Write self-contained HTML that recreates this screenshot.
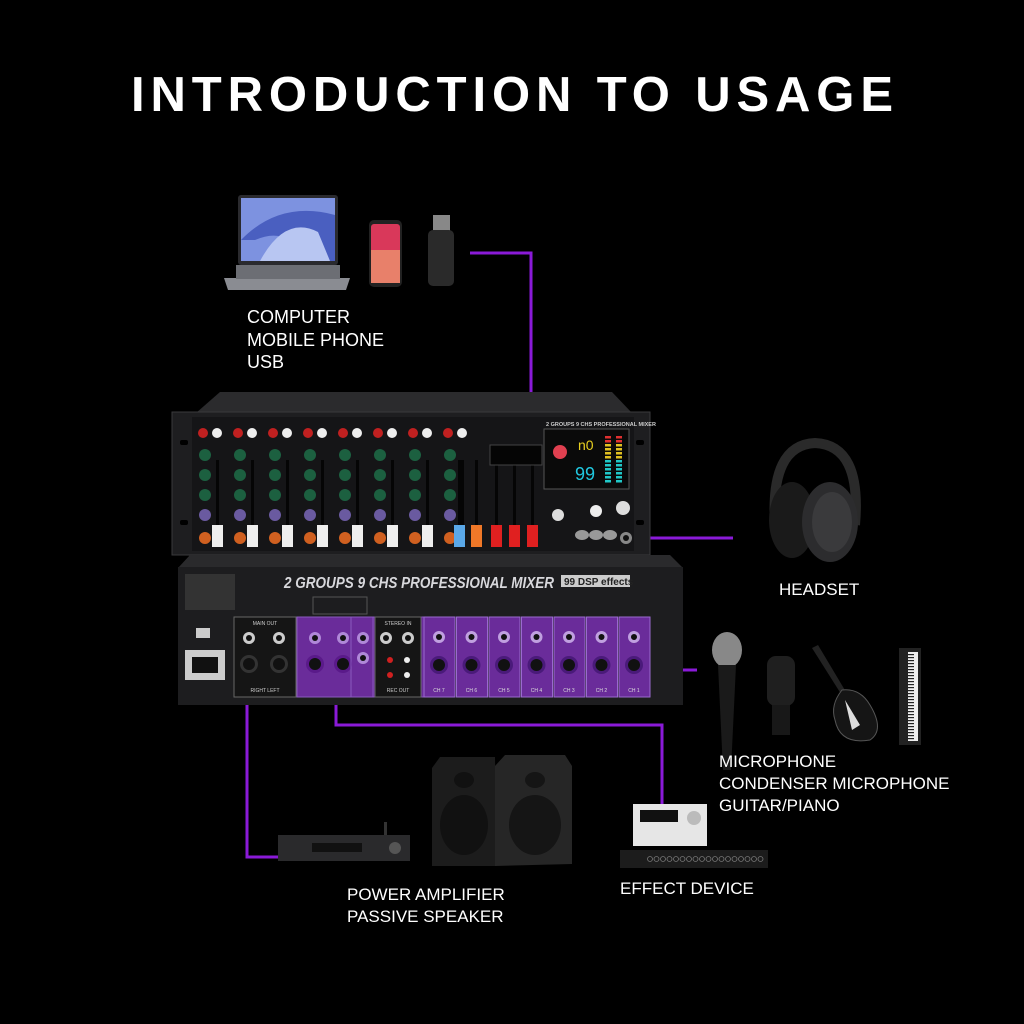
<!DOCTYPE html>
<html><head><meta charset="utf-8">
<style>
html,body{margin:0;padding:0;background:#000;}
svg{display:block}
text{font-family:"Liberation Sans",sans-serif;}
</style></head>
<body>
<svg id="s" width="1024" height="1024" viewBox="0 0 1024 1024" xmlns="http://www.w3.org/2000/svg">
<rect width="1024" height="1024" fill="#000"/>
<text x="131" y="111" textLength="762" lengthAdjust="spacing" fill="#fff" font-size="49" font-weight="bold">INTRODUCTION TO USAGE</text>

<!-- laptop -->
<rect x="238" y="195" width="100" height="70" rx="3" fill="#2a2a2e"/>
<rect x="241" y="198" width="94" height="63" fill="#7d92e0"/>
<path d="M241 240 Q280 200 335 215 L335 261 L300 261 Q290 225 255 240 Z" fill="#4a5fc0"/>
<path d="M260 261 Q285 215 318 232 L330 261 Z" fill="#b8c6f2"/>
<path d="M224 278 L350 278 L346 290 L228 290 Z" fill="#8a8c92"/>
<rect x="236" y="265" width="104" height="14" fill="#6c6e74"/>
<!-- phone -->
<rect x="369" y="220" width="33" height="67" rx="5" fill="#222"/>
<rect x="371" y="224" width="29" height="59" rx="3" fill="#d9385a"/>
<rect x="371" y="250" width="29" height="33" fill="#e8806a"/>
<!-- usb -->
<rect x="433" y="215" width="17" height="16" fill="#888"/>
<rect x="428" y="230" width="26" height="56" rx="5" fill="#2a2a2a"/>
<text x="247" y="323" fill="#fff" font-size="18">COMPUTER</text>
<text x="247" y="346" fill="#fff" font-size="18">MOBILE PHONE</text>
<text x="247" y="368" fill="#fff" font-size="18">USB</text>

<!-- connector lines -->
<g stroke="#8a1ad8" stroke-width="3" fill="none">
<path d="M470 253 L531 253 L531 428"/>
<path d="M630 538 L733 538"/>
<path d="M683 670 L697 670"/>
<path d="M247 690 L247 857 L280 857"/>
<path d="M336 700 L336 725 L662 725 L662 805"/>
</g>

<!-- top mixer -->
<path d="M196 413 L220 392 L612 392 L632 413 Z" fill="#2b2b2d"/>
<rect x="172" y="412" width="478" height="143" fill="#1e1e20" stroke="#3a3a3c"/>
<rect x="180" y="440" width="8" height="5" rx="2" fill="#000"/><rect x="180" y="520" width="8" height="5" rx="2" fill="#000"/>
<rect x="636" y="440" width="8" height="5" rx="2" fill="#000"/><rect x="636" y="520" width="8" height="5" rx="2" fill="#000"/>
<rect x="192" y="417" width="442" height="134" fill="#151517"/>
<g id="strips"></g>
<rect x="490" y="445" width="52" height="20" fill="#050505" stroke="#444"/>
<rect x="544" y="429" width="85" height="60" fill="#0a0a0a" stroke="#555"/>
<text x="546" y="426" fill="#ccc" font-size="5.5" font-weight="bold">2 GROUPS 9 CHS PROFESSIONAL MIXER</text>
<text x="578" y="450" fill="#e8d020" font-size="14">n0</text>
<text x="575" y="480" fill="#20c8e0" font-size="18">99</text>
<g id="meter"></g>
<circle cx="626" cy="538" r="6" fill="#888"/><circle cx="626" cy="538" r="3" fill="#111"/>
<circle cx="623" cy="508" r="7" fill="#ddd"/>
<circle cx="558" cy="515" r="6" fill="#ddd"/><circle cx="596" cy="511" r="6" fill="#eee"/>
<ellipse cx="582" cy="535" rx="7" ry="5" fill="#999"/><ellipse cx="596" cy="535" rx="7" ry="5" fill="#999"/><ellipse cx="610" cy="535" rx="7" ry="5" fill="#999"/>

<!-- back panel -->
<path d="M178 568 L190 555 L670 555 L683 568 Z" fill="#2a2a2c"/>
<rect x="178" y="567" width="505" height="138" fill="#1d1d1f"/>
<text x="284" y="588" textLength="270" lengthAdjust="spacingAndGlyphs" fill="#d8d8dc" font-size="16" font-weight="bold" font-style="italic">2 GROUPS 9 CHS PROFESSIONAL MIXER</text>
<rect x="561" y="575" width="69" height="12" fill="#ccc"/>
<text x="564" y="585" fill="#222" font-size="10" font-weight="bold">99 DSP effects</text>
<rect x="185" y="574" width="50" height="36" fill="#333"/>
<rect x="313" y="597" width="54" height="17" fill="none" stroke="#555"/>
<rect x="185" y="650" width="40" height="30" fill="#ccc"/><rect x="192" y="657" width="26" height="16" fill="#111"/>
<rect x="196" y="628" width="14" height="10" fill="#ccc"/>
<rect x="234" y="617" width="62" height="80" fill="#151515" stroke="#666"/>
<rect x="297" y="617" width="127" height="80" fill="#6a2c9a" stroke="#8a5abf"/>
<rect x="375" y="617" width="46" height="80" fill="#151515" stroke="#666"/>
<text x="265" y="625" text-anchor="middle" fill="#ccc" font-size="5">MAIN OUT</text>
<text x="265" y="692" text-anchor="middle" fill="#ccc" font-size="5">RIGHT   LEFT</text>
<text x="398" y="625" text-anchor="middle" fill="#ccc" font-size="5">STEREO IN</text>
<text x="398" y="692" text-anchor="middle" fill="#ccc" font-size="5">REC OUT</text>
<g id="back"></g>

<!-- headset -->
<path d="M775 525 Q770 445 815 443 Q862 445 855 525" fill="none" stroke="#2a2a2a" stroke-width="10"/>
<ellipse cx="792" cy="520" rx="23" ry="38" fill="#1a1a1a"/>
<ellipse cx="830" cy="522" rx="28" ry="40" fill="#2c2c2e"/>
<ellipse cx="832" cy="522" rx="20" ry="30" fill="#3a3a3c"/>
<text x="779" y="595" fill="#fff" font-size="17">HEADSET</text>

<!-- instruments -->
<ellipse cx="727" cy="650" rx="15" ry="18" fill="#888"/>
<path d="M718 665 L736 665 L731 770 L723 770 Z" fill="#1a1a1a"/>
<rect x="767" y="656" width="28" height="50" rx="9" fill="#1f1f1f"/>
<rect x="772" y="705" width="18" height="30" fill="#181818"/>
<path d="M812 648 L818 645 L852 702 L848 705 Z" fill="#222"/>
<path d="M842 690 Q860 688 870 705 Q885 730 870 740 Q840 745 835 720 Q830 705 842 690 Z" fill="#151515" stroke="#555"/>
<path d="M845 700 L860 725 L852 730 Z" fill="#ddd"/>
<rect x="899" y="648" width="22" height="97" fill="#222"/>
<rect x="908" y="652" width="10" height="89" fill="#eee"/>
<g id="keys"></g>
<text x="719" y="767" fill="#fff" font-size="17">MICROPHONE</text>
<text x="719" y="789" fill="#fff" font-size="17">CONDENSER MICROPHONE</text>
<text x="719" y="811" fill="#fff" font-size="17">GUITAR/PIANO</text>

<!-- speakers -->
<path d="M432 768 L440 757 L495 757 L497 866 L432 866 Z" fill="#1c1c1c"/>
<path d="M495 766 L505 755 L565 755 L572 766 L572 864 L495 866 Z" fill="#262626"/>
<ellipse cx="464" cy="780" rx="10" ry="8" fill="#111"/>
<ellipse cx="535" cy="780" rx="10" ry="8" fill="#151515"/>
<ellipse cx="464" cy="825" rx="24" ry="30" fill="#111"/>
<ellipse cx="535" cy="825" rx="26" ry="30" fill="#151515"/>
<!-- amp -->
<rect x="278" y="835" width="132" height="26" fill="#2a2a2c"/>
<rect x="312" y="843" width="50" height="9" fill="#111"/>
<circle cx="395" cy="848" r="6" fill="#555"/>
<rect x="384" y="822" width="3" height="13" fill="#333"/>
<text x="347" y="900" fill="#fff" font-size="17">POWER AMPLIFIER</text>
<text x="347" y="922" fill="#fff" font-size="17">PASSIVE SPEAKER</text>
<!-- effect -->
<rect x="633" y="804" width="74" height="42" fill="#e6e6e6"/>
<rect x="640" y="810" width="38" height="12" fill="#111"/>
<circle cx="694" cy="818" r="7" fill="#bbb"/>
<rect x="620" y="850" width="148" height="18" fill="#1c1c1c"/>
<g id="fx"></g>
<text x="620" y="894" fill="#fff" font-size="17">EFFECT DEVICE</text>
</svg>
<script>
var NS="http://www.w3.org/2000/svg";
function el(p,t,a){var e=document.createElementNS(NS,t);for(var k in a)e.setAttribute(k,a[k]);p.appendChild(e);return e;}
var g=document.getElementById("strips");
var xs=[215,250,285,320,355,390,425,460];
xs.forEach(function(x,i){
 el(g,"circle",{cx:x-12,cy:433,r:5,fill:"#c02020"});
 el(g,"circle",{cx:x+2,cy:433,r:5,fill:"#eee"});
 for(var j=0;j<4;j++)el(g,"circle",{cx:x-10,cy:455+j*20,r:6,fill:j<3?"#1c6040":"#6a5aa0"});
 el(g,"circle",{cx:x-10,cy:538,r:6,fill:"#d06020"});
 el(g,"rect",{x:x+1,y:460,width:3,height:65,fill:"#050505"});
 if(i<7)el(g,"rect",{x:x-3,y:525,width:11,height:22,fill:"#eee"});
});
[["#5aa8e8",463],["#f07828",480],["#e02020",500],["#e02020",518],["#e02020",536]].forEach(function(c){
 el(g,"rect",{x:c[1]-5,y:460,width:3,height:65,fill:"#050505"});
 el(g,"rect",{x:c[1]-9,y:525,width:11,height:22,fill:c[0]});
});
var m=document.getElementById("meter");
for(var k=0;k<12;k++){var col=k<2?"#e03030":k<6?"#e0c020":"#20c8c8";
 el(m,"rect",{x:605,y:436+k*4,width:6,height:2.5,fill:col});
 el(m,"rect",{x:616,y:436+k*4,width:6,height:2.5,fill:col});}
el(m,"circle",{cx:560,cy:452,r:7,fill:"#e04050"});
var b=document.getElementById("back");
function xlr(x,y,f){el(b,"circle",{cx:x,cy:y,r:9,fill:f});el(b,"circle",{cx:x,cy:y,r:6,fill:"#111"});}
function jack(x,y,f){el(b,"circle",{cx:x,cy:y,r:6,fill:f});el(b,"circle",{cx:x,cy:y,r:3,fill:"#111"});}
jack(249,638,"#ccc");jack(279,638,"#ccc");xlr(249,664,"#333");xlr(279,664,"#333");
jack(315,638,"#b088d8");jack(343,638,"#b088d8");xlr(315,664,"#5a1a8a");xlr(343,664,"#5a1a8a");
jack(363,638,"#b088d8");jack(363,658,"#b088d8");
el(b,"rect",{x:351,y:617,width:22,height:80,fill:"none",stroke:"#8a5abf"});
jack(386,638,"#ccc");jack(408,638,"#ccc");
el(b,"circle",{cx:390,cy:660,r:3,fill:"#d02020"});el(b,"circle",{cx:407,cy:660,r:3,fill:"#eee"});
el(b,"circle",{cx:390,cy:675,r:3,fill:"#d02020"});el(b,"circle",{cx:407,cy:675,r:3,fill:"#eee"});
for(var c=0;c<7;c++){var x=424+c*32.5;
 el(b,"rect",{x:x,y:617,width:31,height:80,fill:"#6a2c9a",stroke:"#9a6acf"});
 jack(x+15,637,"#c0a0e0");xlr(x+15,665,"#4a1a7a");
 var t=el(b,"text",{x:x+15,y:692,"text-anchor":"middle",fill:"#ddd","font-size":"5"});t.textContent="CH "+(7-c);}
var kk=document.getElementById("keys");
for(var i=0;i<29;i++)el(kk,"rect",{x:908,y:654+i*3,width:6,height:1.2,fill:"#222"});
var fx=document.getElementById("fx");
for(var i=0;i<18;i++)el(fx,"circle",{cx:650+i*6.5,cy:859,r:2.5,fill:"none",stroke:"#777","stroke-width":"0.8"});
</script>
</body></html>
